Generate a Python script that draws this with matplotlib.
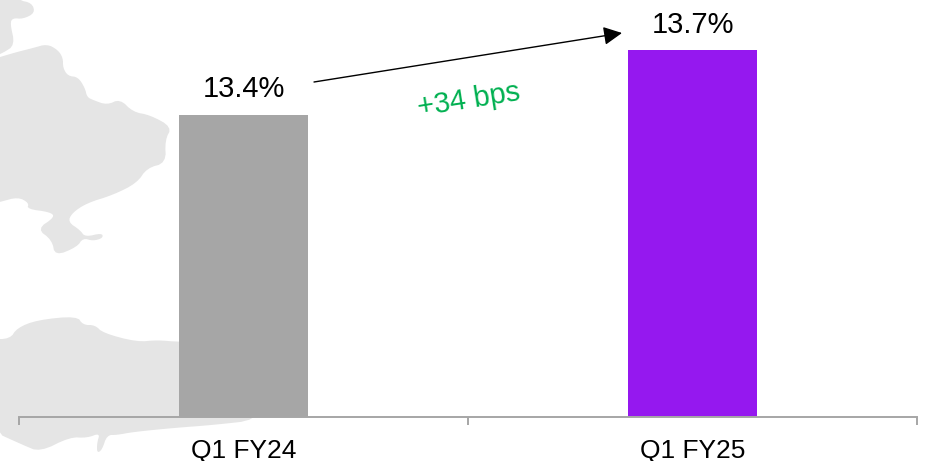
import matplotlib
matplotlib.use("Agg")
import matplotlib.pyplot as plt
from matplotlib.patches import Polygon

plt.rcParams['font.family'] = ['Liberation Sans', 'DejaVu Sans']

categories = ["Q1 FY24", "Q1 FY25"]
margin_values = [13.40, 13.74]
margin_labels = ["13.4%", "13.7%"]
bar_colors = ["#a6a6a6", "#9518ef"]
change_label = "+34 bps"

# Background map outline, traced in image pixels
map_north = [(-10, -10), (18, -10), (18, 0), (32, 3), (35, 13), (23, 19), (13, 18), (10, 23),
             (15, 45), (3, 53), (-10, 58)]
map_main = [(-10, 60), (0, 57), (17, 52), (33, 48), (47, 44), (58, 50), (63, 58), (63, 68),
            (68, 76), (78, 77), (85, 88), (87, 97), (93, 100), (107, 105), (120, 99),
            (133, 112), (150, 115), (172, 127), (165, 140), (166, 163), (147, 168),
            (137, 183), (113, 195), (87, 203), (72, 213), (68, 222), (80, 230), (85, 237),
            (102, 233), (103, 238), (93, 241), (83, 238), (77, 247), (55, 256), (52, 240),
            (37, 229), (55, 217), (50, 212), (27, 209), (29, 203), (18, 197), (0, 202),
            (-10, 204)]
map_south = [(-10, 339), (10, 339), (17, 328), (37, 320), (77, 316), (83, 325), (95, 325),
             (103, 333), (137, 342), (157, 340), (179, 342), (250, 342), (256, 400), (258, 420),
             (213, 425), (173, 428), (133, 432), (117, 435), (107, 435), (102, 450),
             (97, 453), (97, 443), (100, 433), (87, 438), (70, 437), (40, 452), (23, 445),
             (-10, 430)]


# Round off the traced corners by cutting them twice
def smooth(outline, rounds=2):
    for _ in range(rounds):
        cut = []
        for i, (x0, y0) in enumerate(outline):
            x1, y1 = outline[(i + 1) % len(outline)]
            cut.append((0.75 * x0 + 0.25 * x1, 0.75 * y0 + 0.25 * y1))
            cut.append((0.25 * x0 + 0.75 * x1, 0.25 * y0 + 0.75 * y1))
        outline = cut
    return outline


fig = plt.figure(figsize=(9.27, 4.61), dpi=100)

# Full figure layer in pixels for the map and the arrow
bg = fig.add_axes([0, 0, 1, 1])
bg.set_xlim(0, 927)
bg.set_ylim(461, 0)
bg.axis('off')
for outline in (map_north, map_main, map_south):
    bg.add_patch(Polygon(smooth(outline), closed=True, facecolor="#e5e5e5", edgecolor="none"))

ax = fig.add_axes([19 / 927, 44.5 / 461, 898 / 927, 416.5 / 461])
ax.patch.set_alpha(0)
ax.bar(range(2), margin_values, width=0.287, color=bar_colors)
ax.set_xlim(-0.5, 1.5)
ax.set_ylim(11.82, 14.0)

label_offsets = [8.5, 7.5]
for i in range(2):
    ax.annotate(margin_labels[i], (i, margin_values[i]), xytext=(0, label_offsets[i]),
                textcoords='offset points', ha='center', va='bottom',
                fontsize=21, color='black')

for side in ['top', 'left', 'right']:
    ax.spines[side].set_visible(False)
ax.spines['bottom'].set_color("#a6a6a6")
ax.spines['bottom'].set_linewidth(1.4)
ax.set_yticks([])
ax.set_xticks([0, 1])
ax.set_xticklabels(categories, fontsize=19)
ax.tick_params(axis='x', which='major', length=0, pad=16)
ax.set_xticks([-0.5, 0.5, 1.5], minor=True)
ax.tick_params(axis='x', which='minor', length=6, width=1.4, color="#a6a6a6")

# Change arrow and its label
bg.annotate("", xy=(622, 33), xytext=(314, 82),
            arrowprops=dict(arrowstyle="-|>,head_length=0.8,head_width=0.4", color='black',
                            lw=1.0, shrinkA=0, shrinkB=0, mutation_scale=14))
bg.text(469, 100, change_label, color="#00b050", fontsize=20.8, rotation=9,
        ha='center', va='center', rotation_mode='anchor')

fig.savefig("out.png", dpi=100)
